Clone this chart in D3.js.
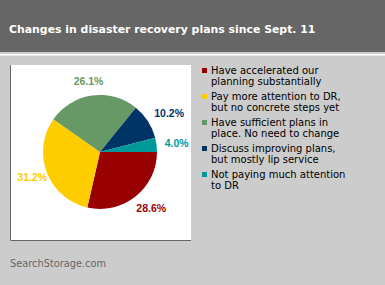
<!DOCTYPE html>
<html>
<head>
<meta charset="utf-8">
<script src="https://cdn.jsdelivr.net/npm/d3@7"></script>
<style>
  body { margin: 0; background: #cccccc; }
  svg { display: block; }
</style>
</head>
<body>
<div id="chart"></div>
<script>
const categories = [
  ['Have accelerated our', 'planning substantially'],
  ['Pay more attention to DR,', 'but no concrete steps yet'],
  ['Have sufficient plans in', 'place. No need to change'],
  ['Discuss improving plans,', 'but mostly lip service'],
  ['Not paying much attention', 'to DR']
];
const values = [28.6, 31.2, 26.1, 10.2, 4.0];
const colors = ['#990000', '#ffcc00', '#669966', '#003366', '#009999'];
const title = 'Changes in disaster recovery plans since Sept. 11';
const source = 'SearchStorage.com';

const width = 385, height = 285;
const svg = d3.select('#chart').append('svg')
    .attr('width', width)
    .attr('height', height);

svg.append('rect').attr('width', width).attr('height', height).attr('fill', '#cccccc');

// header band
svg.append('rect').attr('width', width).attr('height', 52).attr('fill', '#666666');
svg.append('rect').attr('y', 54).attr('width', width).attr('height', 1.5).attr('fill', '#ffffff');
svg.append('text')
    .attr('x', 9).attr('y', 33)
    .attr('fill', '#ffffff')
    .style('font-family', 'DejaVu Sans')
    .style('font-weight', 'bold')
    .style('font-size', '10.9px')
    .text(title);

// white plot box with dark left/bottom edge
const box = {x: 10, y: 65, w: 181, h: 176};
svg.append('rect').attr('x', box.x).attr('y', box.y).attr('width', box.w).attr('height', box.h).attr('fill', '#ffffff');
svg.append('path')
    .attr('d', `M${box.x + 0.5},${box.y}V${box.y + box.h - 0.5}H${box.x + box.w}`)
    .attr('fill', 'none').attr('stroke', '#666666').attr('stroke-width', 1);

const cx = 100, cy = 152, r = 57;
const pie = d3.pie().sort(null).startAngle(Math.PI / 2).endAngle(Math.PI / 2 + 2 * Math.PI);
const arcs = pie(values);
const arc = d3.arc().innerRadius(0).outerRadius(r);

const g = svg.append('g').attr('transform', `translate(${cx},${cy})`);
g.selectAll('path.slice')
    .data(arcs)
    .join('path')
    .attr('class', 'slice')
    .attr('d', arc)
    .attr('fill', (d, i) => colors[i]);

// labels sit just outside the rim, pushed out by half their box, kept inside the plot box
const labelR = 67;
g.selectAll('text.lbl')
    .data(arcs)
    .join('text')
    .attr('class', 'lbl')
    .attr('text-anchor', 'middle')
    .attr('dy', '0.35em')
    .attr('fill', (d, i) => colors[i])
    .style('font-family', 'Liberation Sans')
    .style('font-weight', 'bold')
    .style('font-size', '10.5px')
    .text(d => d3.format('.1f')(d.data) + '%')
    .attr('transform', function (d) {
      const a = (d.startAngle + d.endAngle) / 2;
      const dx = Math.sin(a), dy = -Math.cos(a);
      const b = this.getBBox();
      let x = dx * labelR + dx * b.width / 2;
      const y = dy * labelR + dy * b.height / 2 * 0.8;
      const minX = box.x + 7 - cx + b.width / 2;
      const maxX = box.x + box.w - 2 - cx - b.width / 2;
      x = Math.max(minX, Math.min(maxX, x));
      return `translate(${x},${y})`;
    });

// legend
const legend = svg.append('g').attr('transform', 'translate(202,0)');
const item = legend.selectAll('g')
    .data(categories)
    .join('g')
    .attr('transform', (d, i) => `translate(0,${74 + i * 26})`);
item.append('rect')
    .attr('x', 0).attr('y', -6)
    .attr('width', 5).attr('height', 5)
    .attr('fill', (d, i) => colors[i]);
item.append('text')
    .attr('x', 9)
    .style('font-family', 'DejaVu Sans')
    .style('font-size', '10px')
    .attr('fill', '#000000')
    .selectAll('tspan')
    .data(d => d)
    .join('tspan')
    .attr('x', 9)
    .attr('dy', (d, i) => i === 0 ? 0 : 11)
    .text(d => d);

svg.append('text')
    .attr('x', 10).attr('y', 267)
    .attr('fill', '#666666')
    .style('font-family', 'DejaVu Sans')
    .style('font-size', '9.8px')
    .text(source);
</script>
</body>
</html>
